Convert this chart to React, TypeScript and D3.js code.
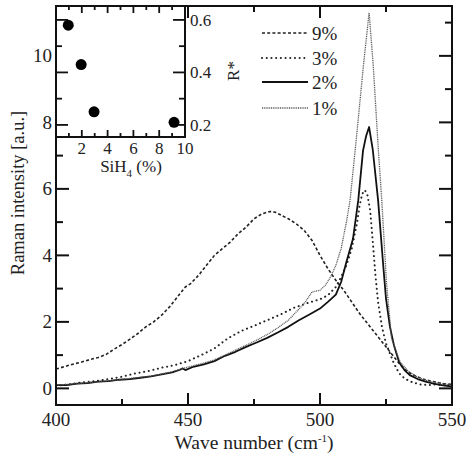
import React from "react";
import * as d3 from "d3";

// ---- main spectra data (wave number cm^-1, Raman intensity a.u.) ----
const wave9 = [400,403,406,410,413,416,419,422,425,428,431,434,437,440,443,446,449,451,454,457,460,463,466,469,472,475,478,481,483,485,488,491,494,497,500,503,506,509,512,515,518,521,524,527,530,533,536,539,542,545,548,550];
const int9 = [0.58,0.65,0.72,0.8,0.87,0.93,1.02,1.18,1.32,1.48,1.65,1.85,2.0,2.2,2.45,2.75,3.05,3.15,3.4,3.7,4.0,4.2,4.4,4.65,4.85,5.1,5.25,5.32,5.3,5.22,5.1,4.95,4.75,4.45,4.0,3.6,3.25,2.95,2.6,2.25,1.95,1.65,1.35,1.05,0.75,0.5,0.38,0.28,0.22,0.17,0.13,0.12];

const wave3 = [400,405,410,415,420,425,430,435,440,445,450,455,460,465,470,475,480,485,490,495,500,503,506,508,510,512,514,515,516,517,518,519,520,521,522,523.5,525,526.5,528,530,532,535,538,541,544,547,550];
const int3 = [0.08,0.12,0.18,0.22,0.28,0.35,0.45,0.52,0.62,0.7,0.82,1.0,1.2,1.5,1.72,1.88,2.05,2.22,2.42,2.56,2.68,2.8,3.05,3.35,3.7,4.2,4.96,5.5,5.85,5.96,5.8,5.36,4.4,3.4,2.6,1.84,1.35,1.05,0.75,0.45,0.3,0.18,0.12,0.1,0.12,0.1,0.08];

const wave2 = [400,404,408,412,416,420,424,428,432,436,440,444,447,448,449,452,456,460,464,468,472,476,480,484,488,492,496,500,503,506,508,510,512.5,514.5,516.3,517.5,518.6,520,522,524,525,526.5,528,530,532,534,537,540,543,546,550];
const int2 = [0.1,0.1,0.14,0.16,0.2,0.22,0.26,0.28,0.32,0.36,0.42,0.48,0.56,0.6,0.55,0.65,0.72,0.82,0.98,1.1,1.25,1.38,1.52,1.68,1.85,2.05,2.22,2.4,2.6,2.82,3.2,3.8,4.5,5.66,7.15,7.6,7.86,7.17,5.66,3.65,2.7,1.85,1.3,0.78,0.55,0.4,0.28,0.2,0.14,0.1,0.05];

const wave1 = [400,404,408,412,416,420,424,428,432,436,440,444,448,452,456,460,464,468,472,476,480,484,488,491,494,497,500,502,504,506,508,510,511.4,514,516.4,518.6,520.2,522.1,523.4,525.2,527.1,530.3,533,536,539,542,546,550];
const int1 = [0.1,0.12,0.14,0.17,0.2,0.23,0.26,0.3,0.33,0.37,0.43,0.5,0.6,0.68,0.76,0.86,1.0,1.15,1.3,1.45,1.62,1.82,2.05,2.3,2.55,2.9,2.95,3.1,3.35,3.7,4.2,5.0,5.66,7.7,9.67,11.3,9.67,7.17,5.66,3.16,1.5,0.8,0.55,0.38,0.27,0.2,0.14,0.1];

const seriesLabels = ["9%", "3%", "2%", "1%"];

// ---- inset data: SiH4 (%) vs R* ----
const silane = [0.95, 1.95, 2.95, 9.15];
const rStar = [0.58, 0.43, 0.25, 0.21];

const xMajorTicks = [400, 450, 500, 550];
const yMajorTicks = [0, 2, 4, 6, 8, 10];
const insetXLabels = [2, 4, 6, 8, 10];
const insetYLabels = [0.2, 0.4, 0.6];

const FONT = "'Liberation Serif', 'Times New Roman', serif";

export default function App() {
  const L = 56, R = 452, T = 6, B = 405;
  const x = d3.scaleLinear().domain([400, 550]).range([L, R]);
  const y = d3.scaleLinear().domain([-0.5, 11.5]).range([B, T]);

  const IL = 56, IR = 185, IT = 6, IB = 137;
  const ix = d3.scaleLinear().domain([0, 10]).range([IL, IR]);
  const iy = d3.scaleLinear().domain([0.154, 0.653]).range([IB, IT]);

  const mk = (xs: number[], ys: number[]) =>
    d3.line<number>().x((_, i) => x(xs[i])).y((_, i) => y(ys[i]))(xs as any) || "";

  const series = [
    { d: mk(wave9, int9), stroke: "#222", width: 1.6, dash: "3,2.2", cap: "butt" },
    { d: mk(wave3, int3), stroke: "#222", width: 2, dash: "0.1,4.6", cap: "round" },
    { d: mk(wave2, int2), stroke: "#111", width: 1.8, dash: "", cap: "butt" },
    { d: mk(wave1, int1), stroke: "#555", width: 1.3, dash: "1,0.8", cap: "butt" },
  ];

  const xTicks = d3.range(400, 551, 25);
  const yTicks = d3.range(0, 12, 1);
  const ixTicks = d3.range(1, 10, 1);
  const iyTicks = [0.2, 0.3, 0.4, 0.5, 0.6];

  const legendY = [33, 58, 82, 108];

  return (
    <svg
      width={469}
      height={463}
      style={{ position: "absolute", left: 0, top: 0, background: "#fff" }}
      fontFamily={FONT}
    >
      <rect x={0} y={0} width={469} height={463} fill="#fff" />
      <defs>
        <clipPath id="plotclip">
          <rect x={L} y={T} width={R - L} height={B - T} />
        </clipPath>
      </defs>

      {/* curves */}
      <g clipPath="url(#plotclip)">
        {series.map((s, i) => (
          <path
            key={i}
            d={s.d}
            fill="none"
            stroke={s.stroke}
            strokeWidth={s.width}
            strokeDasharray={s.dash || undefined}
            strokeLinecap={s.cap as any}
            strokeLinejoin="round"
          />
        ))}
      </g>

      {/* main axes ticks */}
      {xTicks.map((t) => {
        const major = t % 50 === 0;
        const len = major ? 12 : 6;
        return (
          <g key={"xt" + t}>
            <line x1={x(t)} x2={x(t)} y1={B} y2={B - len} stroke="#111" strokeWidth={2} />
            <line x1={x(t)} x2={x(t)} y1={T} y2={T + len} stroke="#111" strokeWidth={2} />
          </g>
        );
      })}
      {yTicks.map((t) => {
        const major = t % 2 === 0;
        const len = major ? 13 : 7;
        return (
          <g key={"yt" + t}>
            <line x1={L} x2={L + len} y1={y(t)} y2={y(t)} stroke="#111" strokeWidth={2} />
            <line x1={R} x2={R - len} y1={y(t)} y2={y(t)} stroke="#111" strokeWidth={2} />
          </g>
        );
      })}
      <rect x={L} y={T} width={R - L} height={B - T} fill="none" stroke="#111" strokeWidth={2} />

      {xMajorTicks.map((t) => (
        <text key={"xl" + t} x={x(t)} y={426} textAnchor="middle" fontSize={19} fill="#222">
          {t}
        </text>
      ))}
      {yMajorTicks.map((t) => (
        <text key={"yl" + t} x={52} y={y(t) + 6.5} textAnchor="end" fontSize={19} fill="#222">
          {t}
        </text>
      ))}

      <text x={254} y={449} textAnchor="middle" fontSize={19.5} fill="#222">
        Wave number (cm<tspan dy={-7} fontSize={11}>-1</tspan>
        <tspan dy={7}>)</tspan>
      </text>
      <text transform="translate(24,193) rotate(-90)" textAnchor="middle" fontSize={18.5} fill="#222">
        Raman intensity [a.u.]
      </text>

      {/* legend */}
      {seriesLabels.map((lab, i) => (
        <g key={"lg" + i}>
          <line
            x1={262}
            x2={308}
            y1={legendY[i]}
            y2={legendY[i]}
            stroke={series[i].stroke}
            strokeWidth={series[i].width}
            strokeDasharray={series[i].dash || undefined}
            strokeLinecap={series[i].cap as any}
          />
          <text x={312} y={legendY[i] + 6.5} fontSize={19} fill="#222">
            {lab}
          </text>
        </g>
      ))}

      {/* inset */}
      <rect x={IL} y={IT} width={IR - IL} height={IB - IT} fill="#fff" stroke="none" />
      {ixTicks.map((t) => {
        const major = t % 2 === 0;
        const len = major ? 7 : 4;
        return (
          <g key={"ixt" + t}>
            <line x1={ix(t)} x2={ix(t)} y1={IB} y2={IB - len} stroke="#111" strokeWidth={1.8} />
            <line x1={ix(t)} x2={ix(t)} y1={IT} y2={IT + len} stroke="#111" strokeWidth={1.8} />
          </g>
        );
      })}
      {iyTicks.map((t, i) => {
        const major = i % 2 === 0;
        const len = major ? 12 : 6;
        return (
          <g key={"iyt" + t}>
            <line x1={IL} x2={IL + len} y1={iy(t)} y2={iy(t)} stroke="#111" strokeWidth={1.8} />
            <line x1={IR} x2={IR - len} y1={iy(t)} y2={iy(t)} stroke="#111" strokeWidth={1.8} />
          </g>
        );
      })}
      <rect x={IL} y={IT} width={IR - IL} height={IB - IT} fill="none" stroke="#111" strokeWidth={2} />
      {silane.map((s, i) => (
        <circle key={"pt" + i} cx={ix(s)} cy={iy(rStar[i])} r={5.5} fill="#000" />
      ))}
      {insetXLabels.map((t) => (
        <text key={"ixl" + t} x={ix(t)} y={154} textAnchor="middle" fontSize={17} fill="#222">
          {t}
        </text>
      ))}
      {insetYLabels.map((t) => (
        <text key={"iyl" + t} x={190} y={iy(t) + 6} fontSize={17} fill="#222">
          {t.toFixed(1)}
        </text>
      ))}
      <text x={131} y={172} textAnchor="middle" fontSize={17} fill="#222">
        SiH<tspan dy={5} fontSize={11}>4</tspan>
        <tspan dy={-5}> (%)</tspan>
      </text>
      <text transform="translate(239,71) rotate(-90)" textAnchor="middle" fontSize={17} fill="#222">
        R*
      </text>
    </svg>
  );
}
